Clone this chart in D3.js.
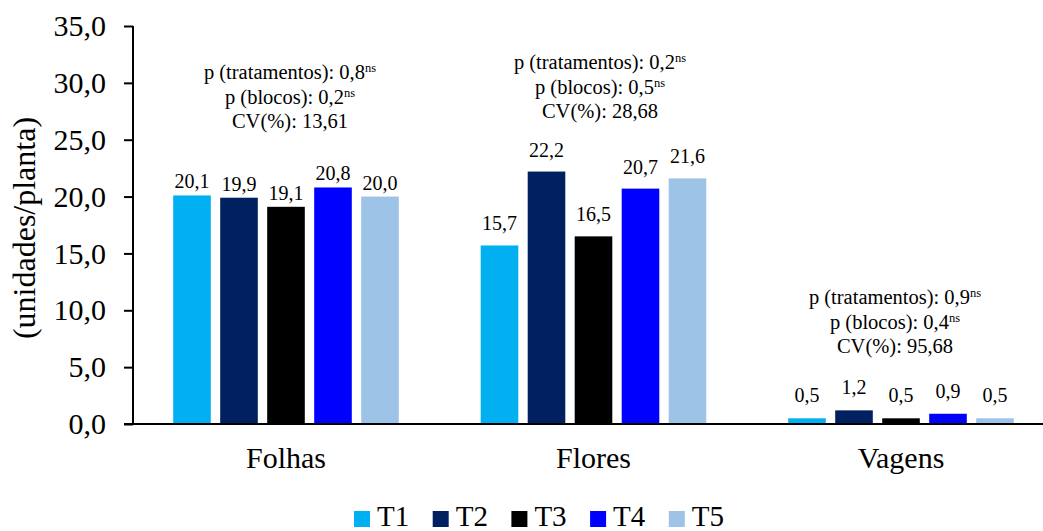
<!DOCTYPE html>
<html>
<head>
<meta charset="utf-8">
<script src="https://cdn.jsdelivr.net/npm/d3@7"></script>
<style>
  html, body { margin: 0; padding: 0; background: #fff; }
  svg { display: block; }
</style>
</head>
<body>
<svg id="chart" width="1043" height="531"></svg>
<script>
// Plant organ counts per treatment
const categories = ["Folhas", "Flores", "Vagens"];
const seriesNames = ["T1", "T2", "T3", "T4", "T5"];
const T1 = [20.1, 15.7, 0.5];
const T2 = [19.9, 22.2, 1.2];
const T3 = [19.1, 16.5, 0.5];
const T4 = [20.8, 20.7, 0.9];
const T5 = [20.0, 21.6, 0.5];
const yTicks = [0, 5, 10, 15, 20, 25, 30, 35];
const pTratamentos = ["0,8", "0,2", "0,9"];
const pBlocos = ["0,2", "0,5", "0,4"];
const cvValues = ["13,61", "28,68", "95,68"];

const seriesValues = [T1, T2, T3, T4, T5];
const colors = ["#00B0F0", "#002060", "#000000", "#0000FF", "#9DC3E6"];

// pick the first installed serif face (Times-like metrics preferred)
function pickFont(candidates) {
  const ctx = document.createElement("canvas").getContext("2d");
  const sample = "Folhas (unidades/planta) 0123456789 Wmi";
  ctx.font = "40px 'ZzNoSuchFace', monospace";
  const baseMono = ctx.measureText(sample).width;
  ctx.font = "40px 'ZzNoSuchFace', sans-serif";
  const baseSans = ctx.measureText(sample).width;
  for (const f of candidates) {
    ctx.font = `40px '${f}', monospace`;
    const w1 = ctx.measureText(sample).width;
    ctx.font = `40px '${f}', sans-serif`;
    const w2 = ctx.measureText(sample).width;
    if (w1 !== baseMono || w2 !== baseSans) return f;
  }
  return "serif";
}
const FONT = pickFont(["Liberation Serif", "Tinos", "Times New Roman", "Nimbus Roman", "Noto Serif", "DejaVu Serif"]);

const svg = d3.select("#chart").attr("font-family", `'${FONT}', serif`);
const axisX = 133, yTop = 26, yBottom = 424;

const locale = d3.formatLocale({ decimal: ",", thousands: ".", grouping: [3], currency: ["", ""] });
const fmt = locale.format(".1f");

const y = d3.scaleLinear().domain([0, 35]).range([yBottom, yTop]);
const x0 = d3.scaleBand().domain(categories).range([132.25, 1054.75]).paddingInner(0).paddingOuter(0);
const x1 = d3.scaleBand().domain(seriesNames).range([-117.5, 117.5]).paddingInner(0.2).paddingOuter(0.1);

// bars
const groups = svg.append("g").selectAll("g")
  .data(categories)
  .join("g")
  .attr("transform", d => `translate(${x0(d) + x0.bandwidth() / 2},0)`);

groups.selectAll("rect")
  .data((c, ci) => seriesNames.map((s, si) => ({ s, si, c, ci, v: seriesValues[si][ci] })))
  .join("rect")
  .attr("x", d => x1(d.s))
  .attr("width", x1.bandwidth())
  .attr("y", d => y(d.v))
  .attr("height", d => y(0) - y(d.v))
  .attr("fill", d => colors[d.si]);

// value labels
const labelGap = { Folhas: 7, Flores: 15, Vagens: 16 };
groups.selectAll("text.val")
  .data((c, ci) => seriesNames.map((s, si) => ({ s, si, c, ci, v: seriesValues[si][ci] })))
  .join("text")
  .attr("class", "val")
  .attr("x", d => x1(d.s) + x1.bandwidth() / 2)
  .attr("y", d => y(d.v) - labelGap[d.c])
  .attr("text-anchor", "middle")
  .attr("font-size", 20)
  .attr("fill", "#000")
  .text(d => fmt(d.v));

// y axis
const yAxis = d3.axisLeft(y).tickValues(yTicks).tickFormat(fmt).tickSize(9).tickPadding(18);
const gy = svg.append("g").attr("transform", `translate(${axisX},0)`).call(yAxis)
  .attr("font-family", null);
gy.select(".domain").attr("stroke", "#000").attr("stroke-width", 2).attr("d", `M0,${yTop}V${yBottom}`);
gy.selectAll(".tick line").attr("stroke", "#000").attr("stroke-width", 2);
gy.selectAll(".tick text").attr("font-size", 30).attr("fill", "#000");

// x axis baseline
svg.append("line")
  .attr("x1", 124).attr("x2", 1043)
  .attr("y1", yBottom).attr("y2", yBottom)
  .attr("stroke", "#000").attr("stroke-width", 2);

// category labels
svg.append("g").selectAll("text")
  .data(categories)
  .join("text")
  .attr("x", d => x0(d) + x0.bandwidth() / 2)
  .attr("y", 468)
  .attr("text-anchor", "middle")
  .attr("font-size", 30)
  .text(d => d);

// y axis title
svg.append("text")
  .attr("transform", "translate(35,228) rotate(-90)")
  .attr("text-anchor", "middle")
  .attr("font-size", 32)
  .text("(unidades/planta)");

// statistics boxes
const statPos = [
  { x: 290, y: 79 },
  { x: 600, y: 69 },
  { x: 895, y: 304 }
];
categories.forEach((c, i) => {
  const g = svg.append("g").attr("font-size", 20.5).attr("text-anchor", "middle");
  const lineH = 24.5;
  const l1 = g.append("text").attr("x", statPos[i].x).attr("y", statPos[i].y);
  l1.append("tspan").text(`p (tratamentos): ${pTratamentos[i]}`);
  l1.append("tspan").attr("font-size", 12.5).attr("dy", -7).text("ns");
  const l2 = g.append("text").attr("x", statPos[i].x).attr("y", statPos[i].y + lineH);
  l2.append("tspan").text(`p (blocos): ${pBlocos[i]}`);
  l2.append("tspan").attr("font-size", 12.5).attr("dy", -7).text("ns");
  g.append("text").attr("x", statPos[i].x).attr("y", statPos[i].y + 2 * lineH)
    .text(`CV(%): ${cvValues[i]}`);
});

// legend
const legend = svg.append("g").attr("transform", "translate(354,0)");
const items = legend.selectAll("g")
  .data(seriesNames)
  .join("g")
  .attr("transform", (d, i) => `translate(${i * 78.7},0)`);
items.append("rect").attr("x", 0).attr("y", 511).attr("width", 16).attr("height", 16)
  .attr("fill", (d, i) => colors[i]);
items.append("text").attr("x", 23).attr("y", 526).attr("font-size", 29).text(d => d);
</script>
</body>
</html>
